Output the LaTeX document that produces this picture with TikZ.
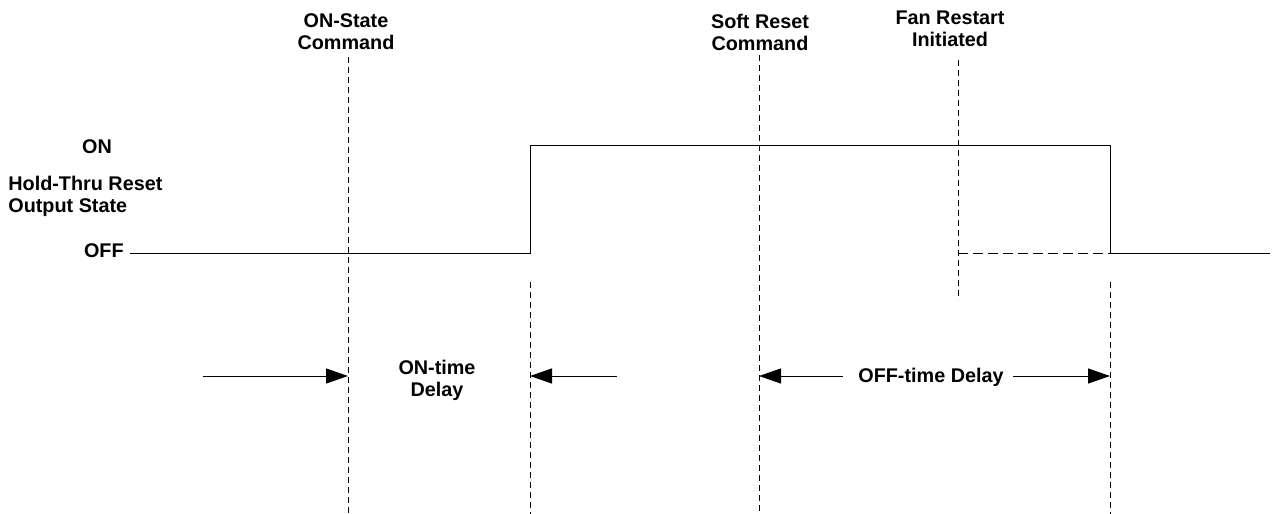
\documentclass[tikz,border=0pt]{standalone}
\usepackage{fontspec}
\setmainfont{Liberation Sans}
\usetikzlibrary{arrows.meta}

\begin{document}
\begin{tikzpicture}[x=0.5pt, y=-0.5pt,
    every node/.style={font=\fontsize{9.9}{11}\selectfont\bfseries, inner sep=0pt},
    event/.style={align=center},
    marker/.style={line width=0.4pt, dash pattern=on 3pt off 2pt},
    signal/.style={line width=0.5pt},
    delay/.style={line width=0.5pt, -{Triangle[length=11pt, width=7.5pt]}}]
   \useasboundingbox (0,0) rectangle (1281,514);

   % events
   \node[event] (onCmd)    at (346,32) {ON-State\\Command};
   \node[event] (resetCmd) at (760,32) {Soft Reset\\Command};
   \node[event] (fanStart) at (950,29) {Fan Restart\\Initiated};

   % level labels
   \node (on)     at (97,147) {ON};
   \node[align=left, anchor=west] (state) at (8,196) {Hold-Thru Reset\\Output State};
   \node[anchor=east] (off)    at (124,251) {OFF};

   % time markers
   \coordinate (onTop)    at (348,57);
   \coordinate (onBot)    at (348,514);
   \coordinate (riseTop)  at (530,282);
   \coordinate (riseBot)  at (530,514);
   \coordinate (resetTop) at (759,55);
   \coordinate (resetBot) at (759,514);
   \coordinate (fanTop)   at (958,60);
   \coordinate (fanBot)   at (958,300);
   \coordinate (fallTop)  at (1110,282);
   \coordinate (fallBot)  at (1110,514);

   \draw[marker] (onTop) -- (onBot);
   \draw[marker] (riseTop) -- (riseBot);
   \draw[marker] (resetTop) -- (resetBot);
   \draw[marker] (fanTop) -- (fanBot);
   \draw[marker] (fallTop) -- (fallBot);

   % output signal
   \coordinate (offStart) at (130,253);
   \coordinate (riseLow)  at (530,253);
   \coordinate (riseHigh) at (530,145);
   \coordinate (fallHigh) at (1110,145);
   \coordinate (fallLow)  at (1110,253);
   \coordinate (fanLow)   at (958,253);
   \coordinate (offEnd)   at (1270,253);

   \draw[signal] (offStart) -- (riseLow) -- (riseHigh) -- (fallHigh) -- (fallLow) -- (offEnd);
   \draw[line width=0.5pt, dash pattern=on 5pt off 2.5pt] (fanLow) -- (fallLow);

   % delays
   \node[event] (onDelay)  at (437,380) {ON-time\\Delay};
   \node (offDelay) at (931,377) {OFF-time Delay};

   \coordinate (onArrowA)  at (203,376);
   \coordinate (onHit)     at (348,376);
   \coordinate (onArrowB)  at (617,376);
   \coordinate (riseHit)   at (530,376);
   \coordinate (offArrowA) at (843,376);
   \coordinate (offArrowB) at (1013,376);
   \coordinate (resetHit)  at (759,376);
   \coordinate (fallHit)   at (1110,376);

   \draw[delay] (onArrowA) -- (onHit);
   \draw[delay] (onArrowB) -- (riseHit);
   \draw[delay] (offArrowA) -- (resetHit);
   \draw[delay] (offArrowB) -- (fallHit);
\end{tikzpicture}
\end{document}
